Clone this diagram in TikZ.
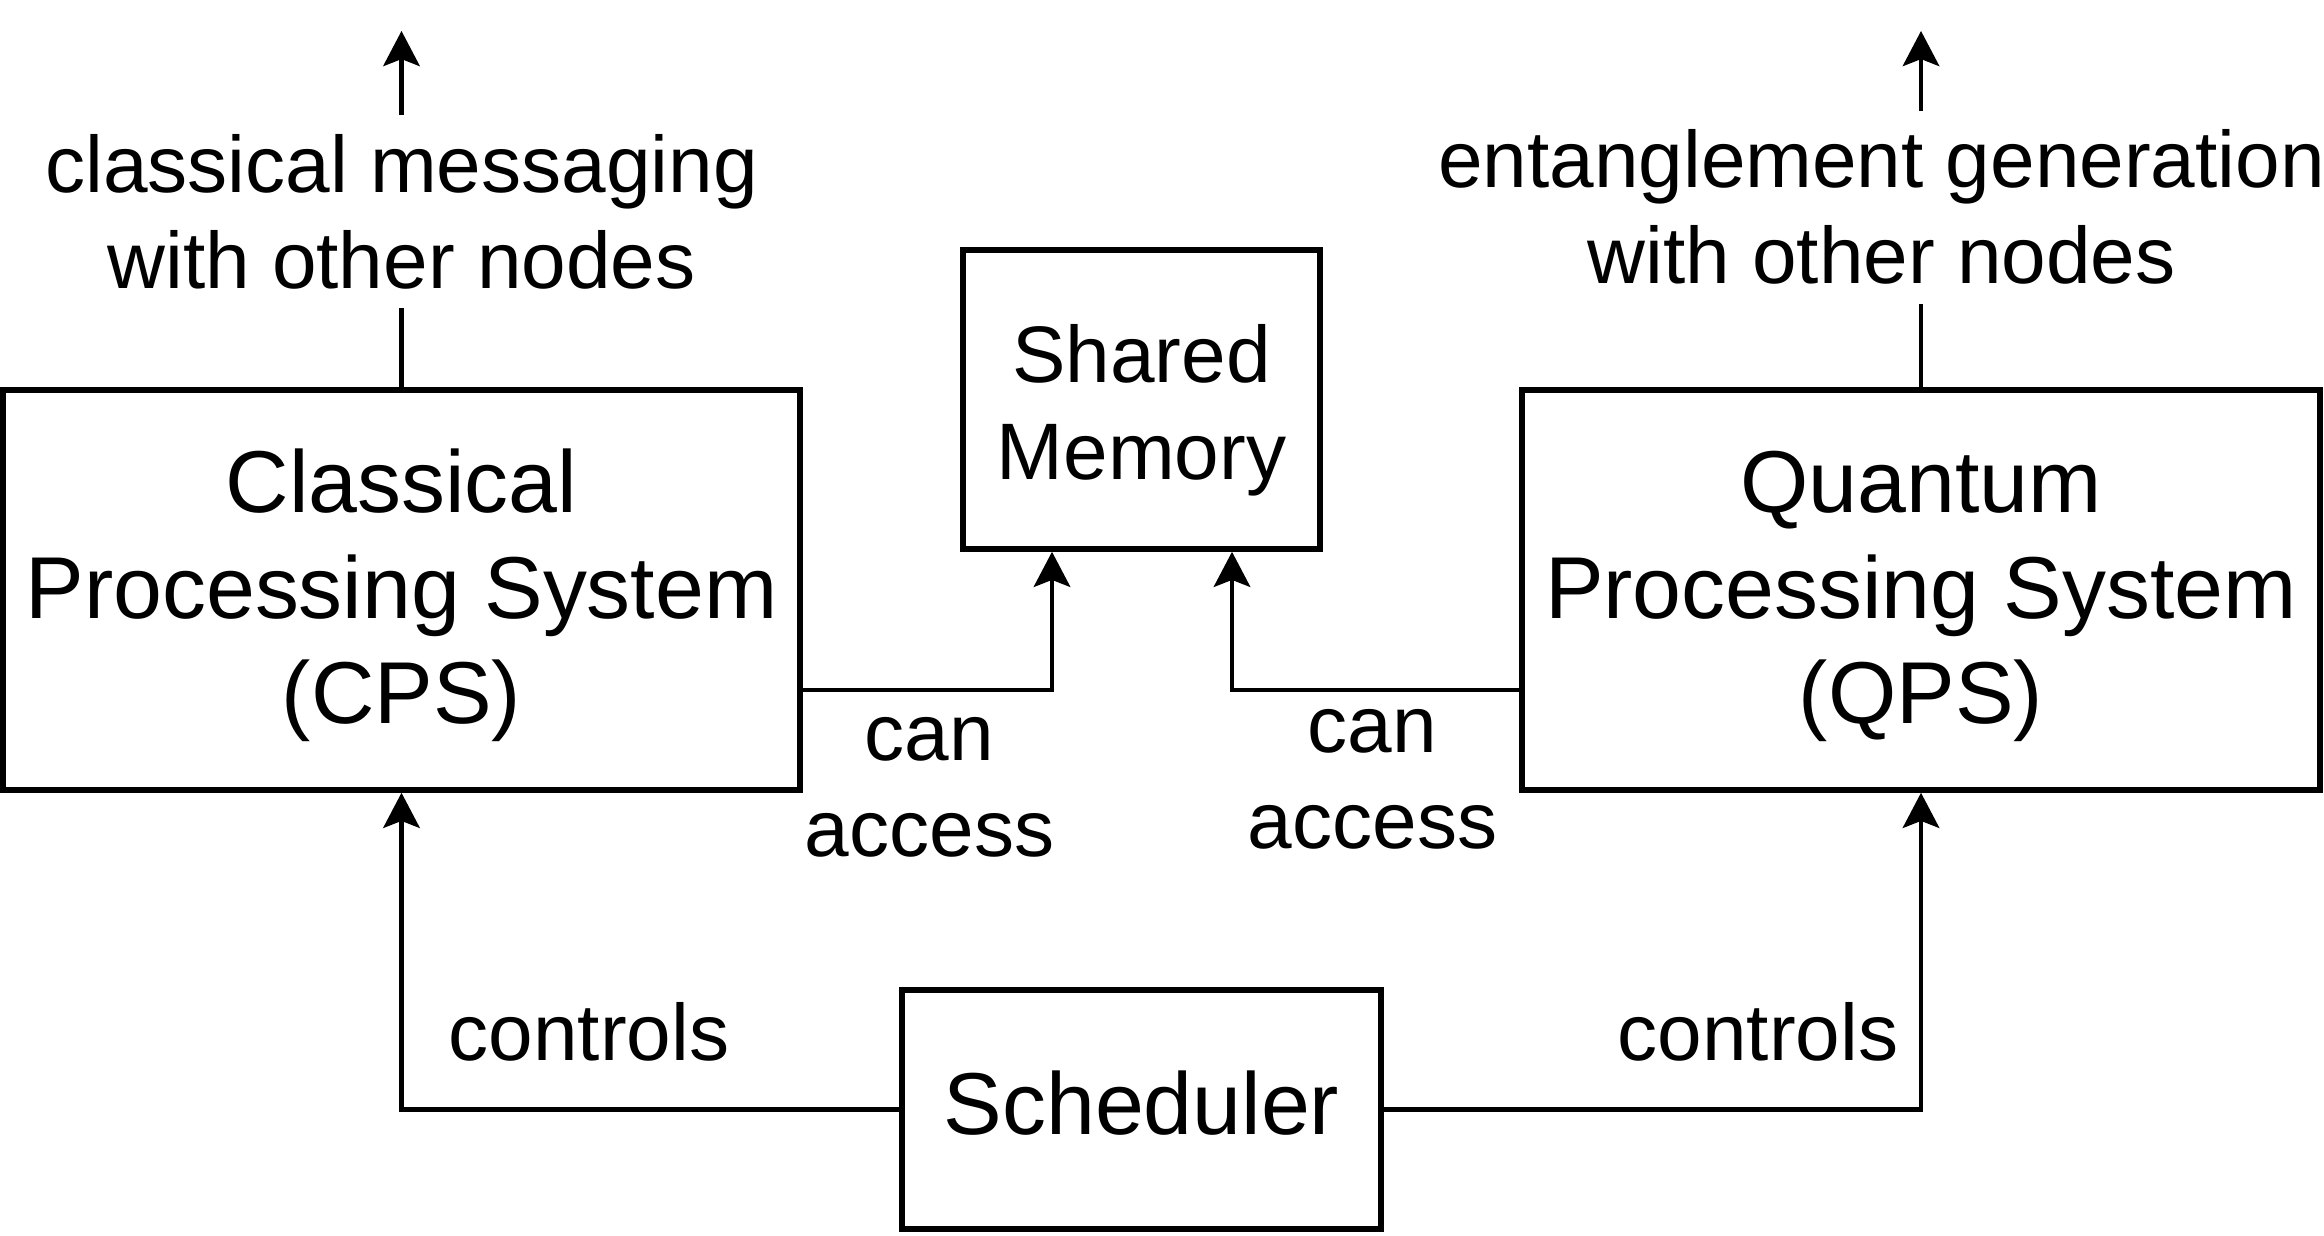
\documentclass[tikz,border=0pt]{standalone}
\usepackage{fontspec}
\setmainfont{Liberation Sans}
\usetikzlibrary{arrows.meta}
\tikzset{
  box/.style={draw, line width=1.6pt, align=center, inner sep=0pt,
    font=\fontsize{25}{30}\selectfont},
  membox/.style={box, font=\fontsize{22.8}{27.4}\selectfont},
  lbl/.style={align=center, inner sep=0pt, font=\fontsize{22.8}{27.4}\selectfont},
  conn/.style={line width=1.15pt, -{Stealth[length=10pt,width=10.4pt,inset=2pt]}},
  plain/.style={line width=1.15pt}
}
\begin{document}
\begin{tikzpicture}
  \useasboundingbox (0,0) rectangle (23.24,12.36);
  % \draw[help lines] (0,0) grid (23.24,12.36);
  \node[box, minimum width=7.97cm, minimum height=4cm] (cps) at (4.015, 6.46) {\rule{0pt}{21.2pt}Classical\\Processing System\\(CPS)};
  \node[box, minimum width=7.98cm, minimum height=4cm] (qps) at (19.21, 6.46) {\rule{0pt}{21.2pt}Quantum\\Processing System\\(QPS)};
  \node[membox, minimum width=3.57cm, minimum height=2.99cm] (mem) at (11.415, 8.365) {\rule{0pt}{22.6pt}Shared\\Memory};
  \node[box, minimum width=4.79cm, minimum height=2.39cm, text height=18pt, text depth=4pt] (sched) at (11.415, 1.265) {Scheduler};

  \node[lbl, inner ysep=5.2pt] (msg) at (4.015, 10.243) {classical messaging\\with other nodes};
  \node[lbl, inner ysep=5.2pt] (ent) at (18.815, 10.288) {entanglement generation\\with other nodes};
  \coordinate (msgout) at (4.015, 12.05);
  \coordinate (entout) at (19.21, 12.05);

  \node[lbl] (accl) at (9.295, 4.49) {can\\access};
  \node[lbl] (accr) at (13.725, 4.57) {can\\access};
  \node[lbl] (ctll) at (5.89, 2.045) {controls};
  \node[lbl] (ctlr) at (17.58, 2.045) {controls};

  % links to other nodes
  \draw[plain] (cps.north) -- (msg.south);
  \draw[conn] (msg.north) -- (msgout);
  \draw[plain] (qps.north) -- (qps.north |- ent.south);
  \draw[conn] (qps.north |- ent.north) -- (entout);

  % memory access
  \draw[conn] ([yshift=-1cm]cps.east) -| ([xshift=-0.895cm]mem.south);
  \draw[conn] ([yshift=-1cm]qps.west) -| ([xshift=0.905cm]mem.south);

  % scheduler
  \draw[conn] (sched.west) -| (cps.south);
  \draw[conn] (sched.east) -| (qps.south);
\end{tikzpicture}
\end{document}
